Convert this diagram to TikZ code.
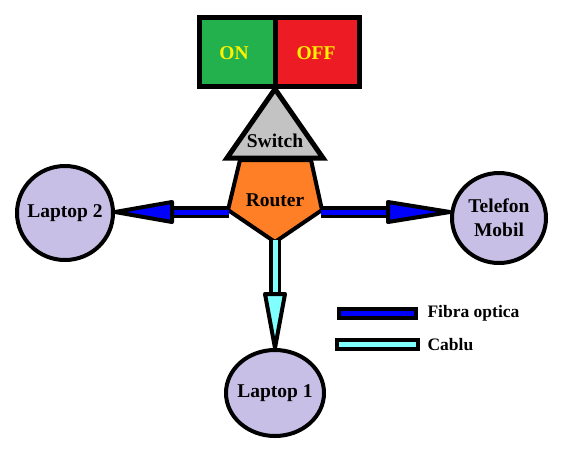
\documentclass[tikz,border=0pt]{standalone}
\usepackage{fontspec}
\setmainfont{Liberation Serif}
\usetikzlibrary{shapes.geometric}
\definecolor{swgreen}{HTML}{22B14C}
\definecolor{swred}{HTML}{ED1C24}
\definecolor{swyellow}{HTML}{FFF200}
\definecolor{swgray}{HTML}{C3C3C3}
\definecolor{rtorange}{HTML}{FF7F27}
\definecolor{devlav}{HTML}{C8BFE7}
\definecolor{fibblue}{HTML}{0000FF}
\definecolor{cabcyan}{HTML}{80FFFF}
\begin{document}
\begin{tikzpicture}[x=1pt,y=-1pt,
  lbl/.style={font=\fontsize{19.5}{24}\selectfont\bfseries},
  dev/.style={ellipse, draw=black, line width=4pt, fill=devlav, inner sep=0pt},
  shaftout/.style={line width=12pt, draw=black},
  shaftin/.style={line width=5pt},
  headstyle/.style={draw=black, line width=4pt, line join=round},
  legbox/.style={draw=black, line width=4pt}]
\useasboundingbox (0,0) rectangle (564,456);
% switch box
\filldraw[swgreen, draw=black, line width=5pt] (199,17) rectangle (275,86);
\filldraw[swred, draw=black, line width=5pt] (275,17) rectangle (359,86);
\node[lbl, text=swyellow] (on) at (234,53) {ON};
\node[lbl, text=swyellow] (off) at (316,53) {OFF};
% switch triangle
\filldraw[fill=swgray, draw=black, line width=5pt, line join=miter] (275,89) -- (323,158) -- (227,158) -- cycle;
\node[lbl] (switch) at (275,141) {Switch};
% router pentagon
\filldraw[fill=rtorange, draw=black, line width=4pt, line join=round] (240,160) -- (311,160) -- (322,210) -- (275,242) -- (228,210) -- cycle;
\node[lbl] (router) at (275,200) {Router};
\coordinate (rW) at (229,212);
\coordinate (rE) at (321,212);
\coordinate (rS) at (275,240);
% devices
\node[dev, minimum width=96pt, minimum height=94pt] (lap2) at (65,213) {};
\node[lbl] (lap2t) at (lap2) {Laptop 2};
\node[dev, minimum width=94pt, minimum height=90pt] (tel) at (499,218) {};
\node[lbl, align=center] (telt) at (tel) {Telefon\\Mobil};
\node[dev, minimum width=98pt, minimum height=86pt] (lap1) at (275,393) {};
\node[lbl] (lap1t) at (lap1) {Laptop 1};
% fibre arrows
\draw[shaftout] (rW) -- ([xshift=50pt]lap2.east |- rW);
\draw[shaftin, fibblue] (rW) -- ([xshift=50pt]lap2.east |- rW);
\draw[headstyle, fill=fibblue] (lap2.east |- rW) -- ++(57,-10) -- ++(0,20) -- cycle;
\draw[shaftout] (rE) -- ([xshift=-50pt]tel.west |- rE);
\draw[shaftin, fibblue] (rE) -- ([xshift=-50pt]tel.west |- rE);
\draw[headstyle, fill=fibblue] (tel.west |- rE) -- ++(-62,-10) -- ++(0,20) -- cycle;
% cable arrow
\draw[shaftout] (rS) -- ([yshift=48pt]lap1.north);
\draw[shaftin, cabcyan] (rS) -- ([yshift=48pt]lap1.north);
\draw[headstyle, fill=cabcyan] (lap1.north) -- ++(-10,-54) -- ++(20,0) -- cycle;
% legend
\node[legbox, fill=fibblue, minimum width=77pt, minimum height=9pt, inner sep=0pt] (legf) at (377.5,313.5) {};
\node[legbox, fill=cabcyan, minimum width=81pt, minimum height=9pt, inner sep=0pt] (legc) at (377.5,344.5) {};
\node[anchor=west, font=\fontsize{17.5}{21}\selectfont\bfseries] (tf) at (424,313) {Fibra optica};
\node[anchor=west, font=\fontsize{17.5}{21}\selectfont\bfseries] (tc) at (424,345) {Cablu};
\end{tikzpicture}
\end{document}
